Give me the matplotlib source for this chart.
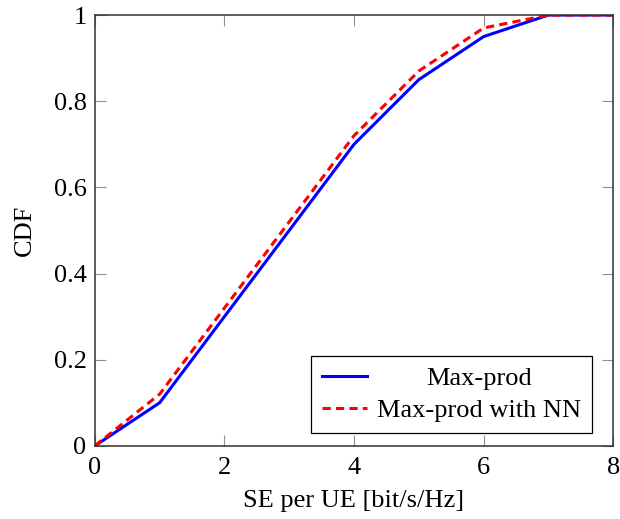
import matplotlib
matplotlib.use('Agg')
import matplotlib.pyplot as plt

se = [0, 1, 2, 3, 4, 5, 6, 7, 8]
cdf_maxprod = [0, 0.10, 0.30, 0.50, 0.70, 0.85, 0.95, 1.0, 1.0]
cdf_maxprod_nn = [0, 0.12, 0.32, 0.52, 0.72, 0.87, 0.97, 1.0, 1.0]

plt.rcParams['font.family'] = ['Liberation Serif', 'DejaVu Serif']
plt.rcParams['font.size'] = 19

fig = plt.figure(figsize=(6.2, 5.19), dpi=100)
ax = fig.add_axes([0.153, 0.141, 0.836, 0.830])

ax.plot(se, cdf_maxprod, color='blue', lw=2.2, label='Max-prod')
ax.plot(se, cdf_maxprod_nn, color='red', lw=2.2, ls=(0, (2.7, 1.7)), label='Max-prod with NN')

ax.set_xlim(0, 8)
ax.set_ylim(0, 1)
ax.set_xticks([0, 2, 4, 6, 8])
ax.set_yticks([0, 0.2, 0.4, 0.6, 0.8, 1])
ax.set_yticklabels(['0', '0.2', '0.4', '0.6', '0.8', '1'])
ax.tick_params(direction='in', top=True, right=True, length=8, color='#909090',
               width=0.8, pad=6)
ax.tick_params(axis='x', pad=8)
for s in ax.spines.values():
    s.set_color('#303030')
    s.set_linewidth(1.1)

ax.set_xlabel('SE per UE [bit/s/Hz]', labelpad=8)
ax.set_ylabel('CDF', labelpad=13)

leg = ax.legend(loc='lower right', bbox_to_anchor=(0.959, 0.030), borderaxespad=0,
                fancybox=False, edgecolor='black', framealpha=1,
                handlelength=1.7, handletextpad=0.4, labelspacing=0.33,
                borderpad=0.4)
leg.get_frame().set_linewidth(0.9)

# centre the shorter legend entry like the original
fig.canvas.draw()
r = fig.canvas.get_renderer()
texts = leg.get_texts()
w = [t.get_window_extent(r).width for t in texts]
texts[0].set_x((max(w) - w[0]) / 2)

fig.savefig('out.png', dpi=100)
